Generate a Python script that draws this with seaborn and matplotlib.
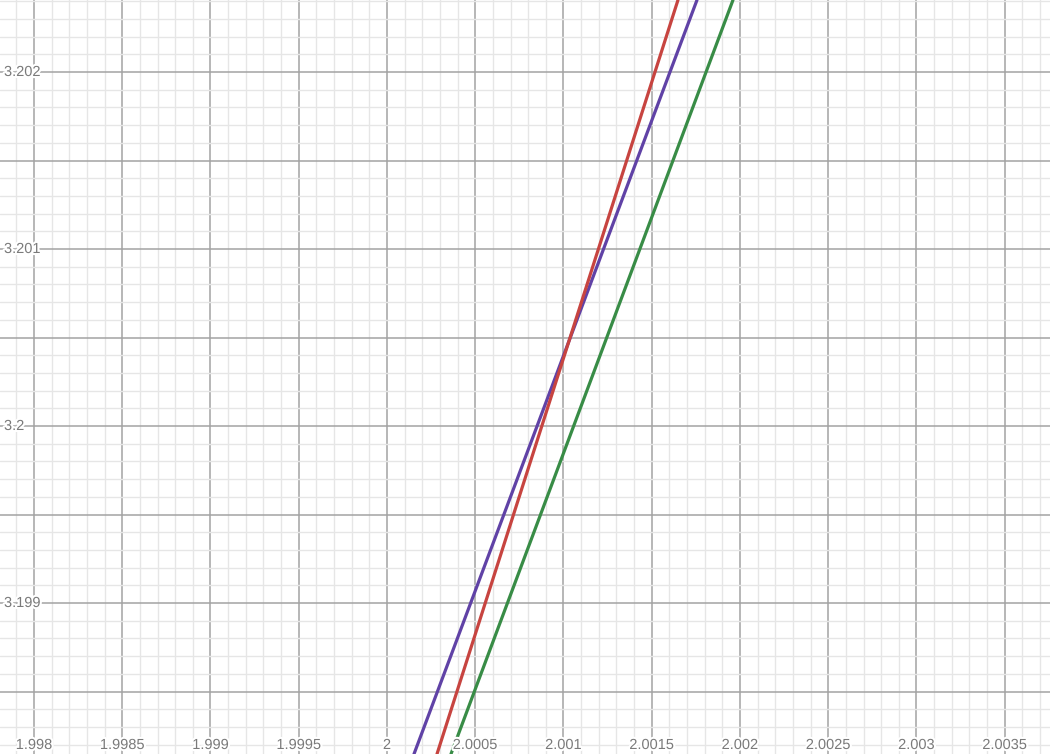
import numpy as np
import pandas as pd
import matplotlib
matplotlib.use("Agg")
import matplotlib.pyplot as plt
import matplotlib.patheffects as pe
import seaborn as sns

# Data (line endpoints)
purple_x = [2.000153, 2.0017564]
purple_y = [3.1981469, 3.2024068]
red_x = [2.0002833, 2.0016487]
red_y = [3.1981469, 3.2024068]
green_x = [2.0003626, 2.0019604]
green_y = [3.1981469, 3.2024068]

x_tick_vals = [1.998, 1.9985, 1.999, 1.9995, 2.0, 2.0005, 2.001, 2.0015, 2.002, 2.0025, 2.003, 2.0035]
x_tick_labels = ["1.998", "1.9985", "1.999", "1.9995", "2", "2.0005", "2.001", "2.0015", "2.002", "2.0025", "2.003", "2.0035"]
y_tick_vals = [3.199, 3.2, 3.201, 3.202]
y_tick_labels = ["3.199", "3.2", "3.201", "3.202"]

XMIN, XMAX = 1.9978074, 2.0037564
YMIN, YMAX = 3.1981469, 3.2024068

df = pd.DataFrame({
    "x": purple_x + red_x + green_x,
    "y": purple_y + red_y + green_y,
    "s": ["purple"] * 2 + ["red"] * 2 + ["green"] * 2,
})

sns.set_style("white")
plt.rcParams["font.family"] = ["Liberation Sans", "DejaVu Sans"]
fig = plt.figure(figsize=(10.5, 7.54), dpi=100)
ax = fig.add_axes([0, 0, 1, 1])

major_x = np.arange(1.9975, 2.0040001, 0.0005)
minor_x = np.arange(1.9977, 2.0039001, 0.0001)
major_y = np.arange(3.1980, 3.2025001, 0.0005)
minor_y = np.arange(3.1980, 3.2025001, 0.0001)
ax.set_xticks(major_x)
ax.set_xticks(minor_x, minor=True)
ax.set_yticks(major_y)
ax.set_yticks(minor_y, minor=True)
ax.grid(which="minor", color="#e6e6e6", lw=1.0)
ax.grid(which="major", color="#a3a3a3", lw=1.1)
ax.tick_params(which="both", length=0, labelbottom=False, labelleft=False)
ax.set_axisbelow(True)

sns.lineplot(data=df, x="x", y="y", hue="s", units="s", estimator=None,
             palette={"purple": "#6042a6", "red": "#c74440", "green": "#388c46"},
             lw=2.3, legend=False, ax=ax, sort=False)

ax.set_xlim(XMIN, XMAX)
ax.set_ylim(YMIN, YMAX)
ax.set_xlabel("")
ax.set_ylabel("")
for s in ax.spines.values():
    s.set_visible(False)

stroke = [pe.withStroke(linewidth=3, foreground="white")]
for v, lab in zip(x_tick_vals, x_tick_labels):
    ax.annotate(lab, xy=(v, 0), xycoords=("data", "axes fraction"),
                xytext=(0, 9), textcoords="offset pixels",
                ha="center", va="center", fontsize=10.5, color="#7a7a7a",
                path_effects=stroke)
for v, lab in zip(y_tick_vals, y_tick_labels):
    ax.annotate(lab, xy=(0, v), xycoords=("axes fraction", "data"),
                xytext=(4, 0), textcoords="offset pixels",
                ha="left", va="center", fontsize=10.5, color="#7a7a7a",
                path_effects=stroke)

fig.savefig("out.png", dpi=100)
